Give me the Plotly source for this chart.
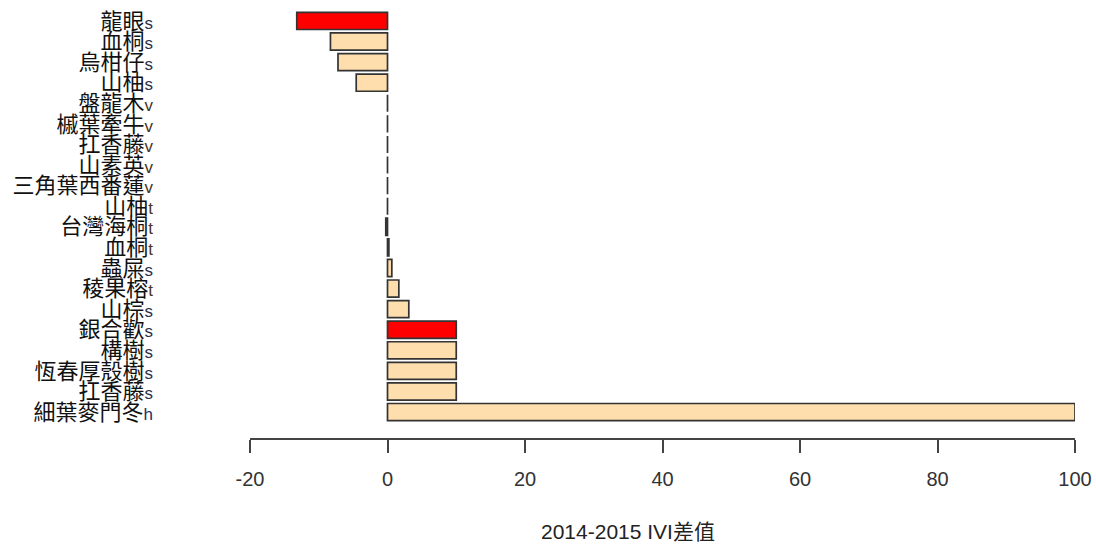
import plotly.graph_objects as go

# Data, listed top to bottom as in the chart
species = ["龍眼", "血桐", "烏柑仔", "山柚", "盤龍木", "槭葉牽牛", "扛香藤", "山素英",
           "三角葉西番蓮", "山柚", "台灣海桐", "血桐", "蟲屎", "稜果榕", "山棕", "銀合歡",
           "構樹", "恆春厚殼樹", "扛香藤", "細葉麥門冬"]
life_form = ["s", "s", "s", "s", "v", "v", "v", "v", "v", "t", "t", "t", "s", "t", "s", "s",
             "s", "s", "s", "h"]
ivi_diff = [-13.2, -8.3, -7.2, -4.55, 0, 0, 0, 0, 0, 0, -0.25, 0.2, 0.63, 1.65, 3.1, 10,
            10, 10, 10, 100]
highlighted = [True] + [False] * 14 + [True] + [False] * 4
x_ticks = [-20, 0, 20, 40, 60, 80, 100]
x_title = "2014-2015 IVI差值"

form_colors = {"s": "#2e2e48", "v": "#4a3320", "t": "#4a3320", "h": "#1e2c68"}

n = len(species)
ypos = [n - 1 - i for i in range(n)]
colors = ["#ff0000" if h else "#ffdead" for h in highlighted]
ticktext = [
    f'{sp}<span style="font-family:Liberation Sans, Arial;font-size:17px;color:{form_colors[lf]}">{lf}</span>'
    for sp, lf in zip(species, life_form)
]

fig = go.Figure(go.Bar(
    x=ivi_diff, y=ypos, orientation="h", width=0.833,
    marker=dict(color=colors, line=dict(color="#333333", width=1.7)),
    cliponaxis=False, showlegend=False, hoverinfo="skip",
))

fig.update_layout(
    width=1096, height=546, autosize=False,
    margin=dict(l=250, r=21, t=9, b=108),
    paper_bgcolor="white", plot_bgcolor="white",
    font=dict(family="Liberation Sans, Arial, sans-serif", color="#222222"),
    xaxis=dict(range=[-20, 100], tickvals=x_ticks, ticktext=[str(v) for v in x_ticks],
               showgrid=False, zeroline=False, showline=True, linecolor="#444444",
               linewidth=1.5, ticks="outside", ticklen=13, tickwidth=1.5,
               tickcolor="#444444", ticklabelstandoff=9, ticklabeloverflow="allow",
               automargin=False, tickfont=dict(size=20, color="#333333")),
    yaxis=dict(range=[-1.26, 19.58], tickvals=ypos, ticktext=ticktext,
               showgrid=False, zeroline=False, showline=False, ticks="",
               ticklabelstandoff=96, ticklabeloverflow="allow", automargin=False,
               tickfont=dict(size=22, family="Noto Sans CJK TC", color="#111111")),
    annotations=[dict(text=x_title, xref="paper", yref="paper",
                      x=(628 - 250) / 825, y=-0.219, xanchor="center", yanchor="middle",
                      showarrow=False, font=dict(size=21, color="#222222",
                                                 family="Liberation Sans, Noto Sans CJK TC"))],
)

fig.write_html(
    "out.html",
    config={"responsive": False, "displayModeBar": False},
    post_script="document.body.style.margin='0';document.body.style.overflow='hidden';",
)
